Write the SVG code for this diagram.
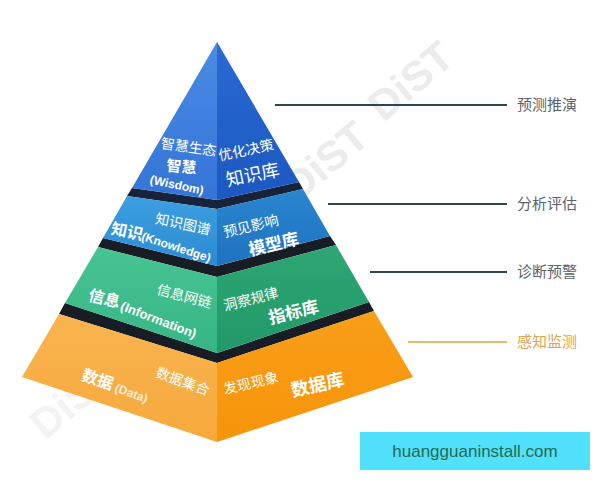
<svg xmlns="http://www.w3.org/2000/svg" width="600" height="480" viewBox="0 0 600 480">
<defs>
<linearGradient id="g1l" x1="0" y1="0" x2="0" y2="1"><stop offset="0" stop-color="#4a8be6"/><stop offset="1" stop-color="#3474d6"/></linearGradient>
<linearGradient id="g1r" x1="0" y1="0" x2="0" y2="1"><stop offset="0" stop-color="#2a6ad2"/><stop offset="1" stop-color="#1c58c2"/></linearGradient>
<linearGradient id="g2l" x1="0" y1="0" x2="0" y2="1"><stop offset="0" stop-color="#3a9fe0"/><stop offset="1" stop-color="#2e8bd2"/></linearGradient>
<linearGradient id="g2r" x1="0" y1="0" x2="0" y2="1"><stop offset="0" stop-color="#2a86d0"/><stop offset="1" stop-color="#1f72c0"/></linearGradient>
<linearGradient id="g3l" x1="0" y1="0" x2="0" y2="1"><stop offset="0" stop-color="#46c493"/><stop offset="1" stop-color="#38b584"/></linearGradient>
<linearGradient id="g3r" x1="0" y1="0" x2="0" y2="1"><stop offset="0" stop-color="#2ea774"/><stop offset="1" stop-color="#229868"/></linearGradient>
<linearGradient id="g4l" x1="0" y1="0" x2="0" y2="1"><stop offset="0" stop-color="#f9b44f"/><stop offset="1" stop-color="#f7a93c"/></linearGradient>
<linearGradient id="g4r" x1="0" y1="0" x2="0" y2="1"><stop offset="0" stop-color="#f99e18"/><stop offset="1" stop-color="#f7950a"/></linearGradient>
</defs>
<style>
.t{font-family:"Noto Sans CJK SC","Liberation Sans",sans-serif;fill:#ffffff;text-anchor:middle}
.b{font-weight:bold}
.en{font-family:"Liberation Sans","Noto Sans CJK SC",sans-serif;font-weight:bold;fill:#ffffff;text-anchor:middle}
.band{fill:#181c24}
.lab{font-family:"Noto Sans CJK SC",sans-serif;font-size:15px;fill:#5a636d}
.ln{stroke:#2e4556;stroke-width:2}
.wm{font-family:"Liberation Sans",sans-serif;font-weight:bold;font-size:42px;fill:#d6d6d6;opacity:0.45;text-anchor:middle}
</style>
<rect width="600" height="480" fill="#ffffff"/>

<g id="watermarks">
<text class="wm" transform="translate(420,92) rotate(-40)">DiST</text>
<text class="wm" transform="translate(335,172) rotate(-40)">DiST</text>
<text class="wm" transform="translate(82,410) rotate(-40)" style="opacity:0.28">DiST</text>
</g>

<g id="connectors">
<line class="ln" x1="275" y1="105" x2="507" y2="105"/>
<line class="ln" x1="328" y1="204" x2="507" y2="204"/>
<line class="ln" x1="370" y1="272" x2="507" y2="272"/>
<line x1="408" y1="342" x2="507" y2="342" stroke="#e8ba6e" stroke-width="2"/>
</g>

<g id="tier-data">
<polygon class="band" points="65,303 217,353 369,302 374,311 217,363 59,314"/>
<polygon fill="url(#g4l)" points="59,314 217,363 217,442 22,377"/>
<polygon fill="url(#g4r)" points="217,363 374,311 413,377 217,442"/>
<text class="t b" font-size="16" transform="translate(96,385) rotate(18)">数据</text>
<text class="en" font-size="12" transform="translate(130,397) rotate(20)" style="fill:#f4ecdf">(Data)</text>
<text class="t" font-size="14" transform="translate(181,386) rotate(20)">数据集合</text>
<text class="t" font-size="14" transform="translate(252,388) rotate(-13)">发现现象</text>
<text class="t b" font-size="18" transform="translate(319,391) rotate(-13)">数据库</text>
</g>

<g id="tier-information">
<polygon class="band" points="103,238 217,266 330,236 336,245 217,277 98,247"/>
<polygon fill="url(#g3l)" points="98,247 217,277 217,353 65,303"/>
<polygon fill="url(#g3r)" points="217,277 336,245 369,302 217,353"/>
<text class="t b" font-size="16" transform="translate(103,304) rotate(14)">信息</text>
<text class="en" font-size="13" transform="translate(157,324) rotate(21)">(Information)</text>
<text class="t" font-size="14" transform="translate(183,301) rotate(15)">信息网链</text>
<text class="t" font-size="14" transform="translate(252,304) rotate(-14)">洞察规律</text>
<text class="t b" font-size="17" transform="translate(295,318) rotate(-14)">指标库</text>
</g>

<g id="tier-knowledge">
<polygon fill="#17233a" points="132,188 217,200 299,182 303,189 217,209 127,196"/>
<polygon fill="url(#g2l)" points="127,196 217,209 217,266 103,238"/>
<polygon fill="url(#g2r)" points="217,209 303,189 330,236 217,266"/>
<text class="t b" font-size="16" transform="translate(126,237) rotate(12)">知识</text>
<text class="en" font-size="12" transform="translate(175,251) rotate(18)">(Knowledge)</text>
<text class="t" font-size="14" transform="translate(182,229) rotate(12)">知识图谱</text>
<text class="t" font-size="14" transform="translate(252,231) rotate(-13)">预见影响</text>
<text class="t b" font-size="17" transform="translate(275,250) rotate(-13)">模型库</text>
</g>

<g id="tier-wisdom">
<polygon fill="url(#g1l)" points="217,42 217,200 132,188"/>
<polygon fill="url(#g1r)" points="217,42 299,182 217,200"/>
<text class="t" font-size="14" transform="translate(188,152) rotate(8)">智慧生态</text>
<text class="t b" font-size="15" transform="translate(181,172) rotate(5)">智慧</text>
<text class="en" font-size="12" transform="translate(176,189) rotate(12)">(Wisdom)</text>
<text class="t" font-size="14" transform="translate(247,155) rotate(-12)">优化决策</text>
<text class="t" font-size="18" transform="translate(254,181) rotate(-12)">知识库</text>
</g>

<g id="label-1"><text class="lab" x="517" y="110">预测推演</text></g>
<g id="label-2"><text class="lab" x="517" y="209">分析评估</text></g>
<g id="label-3"><text class="lab" x="517" y="277">诊断预警</text></g>
<g id="label-4"><text class="lab" x="517" y="347" style="fill:#dba456">感知监测</text></g>

<g id="site-badge">
<rect x="360" y="432" width="230" height="38" fill="#52e1fd"/>
<text x="475" y="457" font-family="Liberation Sans, sans-serif" font-size="17" fill="#236b50" text-anchor="middle">huangguaninstall.com</text>
</g>
</svg>
